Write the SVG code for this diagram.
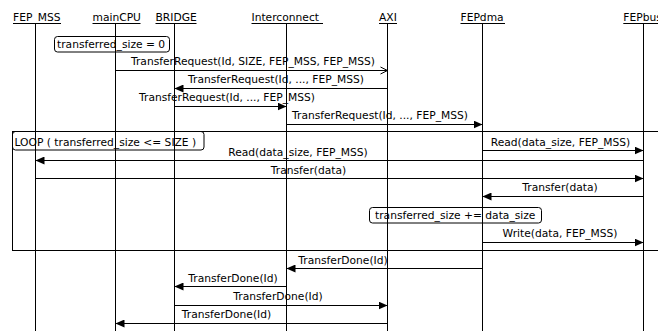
<svg xmlns="http://www.w3.org/2000/svg" width="658" height="331" viewBox="0 0 658 331">
  <style>
    text { font-family: "DejaVu Sans", "Liberation Sans", sans-serif; font-size: 10.7px; fill: #000; }
    .life { stroke: #000; stroke-width: 1; fill: none; }
    .uline { stroke: #000; stroke-width: 1; }
    .msg { stroke: #000; stroke-width: 1; fill: none; }
    .sync { marker-end: url(#solid); }
    .async { marker-end: url(#open); }
    .note { fill: none; stroke: #000; stroke-width: 1; }
    .frame { fill: none; stroke: #000; stroke-width: 1; }
    .mid { text-anchor: middle; }
  </style>
  <defs>
    <marker id="solid" viewBox="0 0 9 8" refX="9" refY="4" markerWidth="9" markerHeight="8" orient="auto" markerUnits="userSpaceOnUse">
      <path d="M0,0 L9,4 L0,8 z" fill="#000"/>
    </marker>
    <marker id="open" viewBox="0 0 8 9" refX="7.5" refY="4.5" markerWidth="8" markerHeight="9" orient="auto" markerUnits="userSpaceOnUse">
      <path d="M0.5,1 L7.5,4.5 L0.5,8" fill="none" stroke="#000" stroke-width="1"/>
    </marker>
  </defs>

  <rect width="658" height="331" fill="#fff"/>

  <!-- participants with their lifelines -->
  <g id="FEP_MSS">
    <text x="13" y="21">FEP_MSS</text>
    <line class="uline" x1="13" y1="23.5" x2="61" y2="23.5"/>
    <line class="life" x1="35.5" y1="23.5" x2="35.5" y2="331"/>
  </g>
  <g id="mainCPU">
    <text x="92.5" y="21">mainCPU</text>
    <line class="uline" x1="92.5" y1="23.5" x2="140.5" y2="23.5"/>
    <line class="life" x1="115.5" y1="23.5" x2="115.5" y2="331"/>
  </g>
  <g id="BRIDGE">
    <text x="155.5" y="21">BRIDGE</text>
    <line class="uline" x1="155.5" y1="23.5" x2="196.5" y2="23.5"/>
    <line class="life" x1="174.5" y1="23.5" x2="174.5" y2="331"/>
  </g>
  <g id="Interconnect">
    <text x="251.5" y="21">Interconnect</text>
    <line class="uline" x1="251.5" y1="23.5" x2="323" y2="23.5"/>
    <line class="life" x1="286.5" y1="23.5" x2="286.5" y2="331"/>
  </g>
  <g id="AXI">
    <text x="379" y="21">AXI</text>
    <line class="uline" x1="379" y1="23.5" x2="397" y2="23.5"/>
    <line class="life" x1="387.5" y1="23.5" x2="387.5" y2="331"/>
  </g>
  <g id="FEPdma">
    <text x="460.5" y="21">FEPdma</text>
    <line class="uline" x1="460.5" y1="23.5" x2="505" y2="23.5"/>
    <line class="life" x1="482.5" y1="23.5" x2="482.5" y2="331"/>
  </g>
  <g id="FEPbus">
    <text x="623.3" y="21">FEPbus</text>
    <line class="uline" x1="623.3" y1="23.5" x2="665" y2="23.5"/>
    <line class="life" x1="643.5" y1="23.5" x2="643.5" y2="331"/>
  </g>

  <!-- loop fragment -->
  <g id="loop">
    <rect class="frame" x="12.5" y="131.5" width="700" height="119"/>
    <rect class="note" x="12.5" y="131.5" width="191.5" height="18.5" rx="3"/>
    <text x="14.5" y="145.5">LOOP ( transferred_size &lt;= SIZE )</text>
  </g>

  <!-- notes -->
  <g id="note-init">
    <rect class="note" x="54.5" y="36.5" width="115" height="15.5" rx="3"/>
    <text x="57" y="48">transferred_size = 0</text>
  </g>
  <g id="note-accumulate">
    <rect class="note" x="369.5" y="207.5" width="172" height="15.5" rx="3"/>
    <text x="375" y="219">transferred_size += data_size</text>
  </g>

  <!-- messages -->
  <g id="connectors">
    <line class="msg async" x1="115.5" y1="70.5" x2="387.5" y2="70.5"/>
    <text class="mid" x="253" y="65">TransferRequest(Id, SIZE, FEP_MSS, FEP_MSS)</text>

    <line class="msg sync" x1="387.5" y1="88.5" x2="174.5" y2="88.5"/>
    <text class="mid" x="276" y="83">TransferRequest(Id, ..., FEP_MSS)</text>

    <line class="msg sync" x1="174.5" y1="106.5" x2="286.5" y2="106.5"/>
    <text class="mid" x="227" y="101">TransferRequest(Id, ..., FEP_MSS)</text>

    <line class="msg sync" x1="286.5" y1="124.5" x2="482.5" y2="124.5"/>
    <text class="mid" x="380" y="119">TransferRequest(Id, ..., FEP_MSS)</text>

    <line class="msg sync" x1="482.5" y1="150.5" x2="643.5" y2="150.5"/>
    <text class="mid" x="560.5" y="145.5">Read(data_size, FEP_MSS)</text>

    <line class="msg sync" x1="643.5" y1="160.5" x2="35.5" y2="160.5"/>
    <text class="mid" x="298" y="155.5">Read(data_size, FEP_MSS)</text>

    <line class="msg sync" x1="35.5" y1="178.5" x2="643.5" y2="178.5"/>
    <text class="mid" x="308.5" y="173.5">Transfer(data)</text>

    <line class="msg sync" x1="643.5" y1="196.5" x2="482.5" y2="196.5"/>
    <text class="mid" x="560" y="191">Transfer(data)</text>

    <line class="msg sync" x1="482.5" y1="242.5" x2="643.5" y2="242.5"/>
    <text class="mid" x="560" y="237">Write(data, FEP_MSS)</text>

    <line class="msg sync" x1="482.5" y1="268.5" x2="286.5" y2="268.5"/>
    <text class="mid" x="343" y="263.5">TransferDone(Id)</text>

    <line class="msg sync" x1="286.5" y1="286.5" x2="174.5" y2="286.5"/>
    <text class="mid" x="233" y="281.5">TransferDone(Id)</text>

    <line class="msg sync" x1="174.5" y1="305.5" x2="387.5" y2="305.5"/>
    <text class="mid" x="278" y="300">TransferDone(Id)</text>

    <line class="msg sync" x1="387.5" y1="323.5" x2="115.5" y2="323.5"/>
    <text class="mid" x="226.5" y="318">TransferDone(Id)</text>
  </g>
</svg>
